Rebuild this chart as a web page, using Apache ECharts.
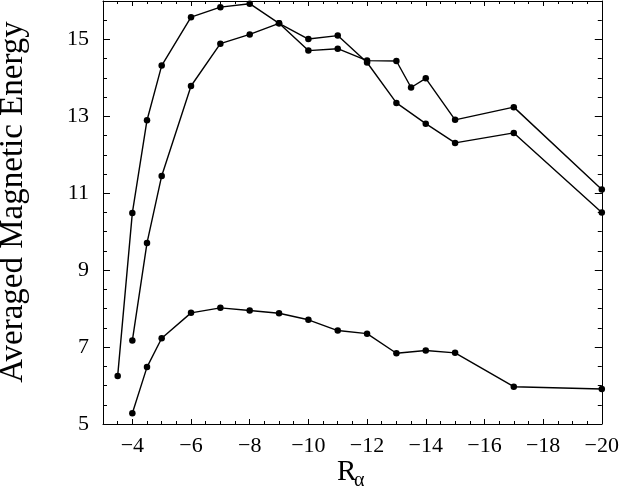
<!DOCTYPE html>
<html>
<head>
<meta charset="utf-8">
<script src="https://cdn.jsdelivr.net/npm/echarts@6/dist/echarts.min.js"></script>
<style>html,body{margin:0;padding:0;background:#fff}#c{width:622px;height:492px}</style>
</head>
<body>
<div id="c"></div>
<script>
// R_alpha values and averaged magnetic energy for three runs
var xA = [-3.5, -4, -4.5, -5, -6, -7, -8, -9, -10, -11, -12, -13, -13.5, -14, -15, -17, -20];
var yA = [6.25, 10.49, 12.90, 14.32, 15.58, 15.84, 15.93, 15.42, 14.71, 14.76, 14.45, 14.44, 13.75, 13.99, 12.91, 13.24, 11.10];
var xB = [-4, -4.5, -5, -6, -7, -8, -9, -10, -11, -12, -13, -14, -15, -17, -20];
var yB = [7.17, 9.71, 11.45, 13.79, 14.89, 15.13, 15.42, 15.01, 15.10, 14.40, 13.35, 12.81, 12.31, 12.57, 10.50];
var xC = [-4, -4.5, -5, -6, -7, -8, -9, -10, -11, -12, -13, -14, -15, -17, -20];
var yC = [5.28, 6.48, 7.23, 7.89, 8.02, 7.95, 7.88, 7.71, 7.43, 7.35, 6.84, 6.91, 6.85, 5.97, 5.91];

var xMin = -20, xMax = -3, xMajor = 2, xMinor = 0.5;
var yMin = 5, yMax = 16, yMajor = 2, yMinor = 0.5;
var yTitle = 'Averaged Magnetic Energy';
var xTitleMain = 'R';
var xTitleSub = 'α';

function zip(xs, ys) { return xs.map(function (x, i) { return [x, ys[i]]; }); }
function fmt(v) { return (v < 0 ? '\u2212' : '') + Math.abs(v); }

var FONT = 'Liberation Serif';
var black = '#000';

function xAx(pos, interval, len, labels, line) {
  return {
    type: 'value', position: pos, min: xMin, max: xMax, interval: interval, inverse: true,
    axisLine: { show: line, onZero: false, lineStyle: { color: black, width: 1 } },
    axisTick: { show: true, inside: true, length: len, lineStyle: { color: black, width: 1 } },
    axisLabel: { show: labels, formatter: fmt, margin: 11, color: black, fontFamily: FONT, fontSize: 22, showMaxLabel: false },
    splitLine: { show: false }
  };
}
function yAx(pos, interval, len, labels, line) {
  return {
    type: 'value', position: pos, min: yMin, max: yMax, interval: interval,
    axisLine: { show: line, onZero: false, lineStyle: { color: black, width: 1 } },
    axisTick: { show: true, inside: true, length: len, lineStyle: { color: black, width: 1 } },
    axisLabel: { show: labels, formatter: fmt, margin: 14, color: black, fontFamily: FONT, fontSize: 22, showMaxLabel: false },
    splitLine: { show: false }
  };
}

function ser(xs, ys) {
  return {
    type: 'line', xAxisIndex: 0, yAxisIndex: 0, data: zip(xs, ys),
    symbol: 'circle', symbolSize: 6.5, clip: false,
    lineStyle: { color: black, width: 1.4 }, itemStyle: { color: black },
    animation: false
  };
}

var chart = echarts.init(document.getElementById('c'), null, { renderer: 'canvas' });
chart.setOption({
  animation: false,
  backgroundColor: '#fff',
  grid: { left: 103, right: 18, top: 1, bottom: 68, containLabel: false },
  xAxis: [
    xAx('bottom', xMajor, 5, true, true),
    xAx('bottom', xMinor, 3, false, false),
    xAx('top', xMajor, 5, false, true),
    xAx('top', xMinor, 3, false, false)
  ],
  yAxis: [
    yAx('left', yMajor, 7, true, true),
    yAx('left', yMinor, 4, false, false),
    yAx('right', yMajor, 7, false, true),
    yAx('right', yMinor, 4, false, false)
  ],
  series: [ser(xA, yA), ser(xB, yB), ser(xC, yC)],
  graphic: [
    { type: 'text', x: 13, y: 202, rotation: Math.PI / 2,
      style: { text: yTitle, font: '33px "' + FONT + '"', fill: black, align: 'center', verticalAlign: 'middle' } },
    { type: 'text', x: 337, y: 472,
      style: { text: xTitleMain, font: '29px "' + FONT + '"', fill: black, align: 'left', verticalAlign: 'middle' } },
    { type: 'text', x: 354, y: 481,
      style: { text: xTitleSub, font: '20px "' + FONT + '"', fill: black, align: 'left', verticalAlign: 'middle' } }
  ]
});
</script>
</body>
</html>
